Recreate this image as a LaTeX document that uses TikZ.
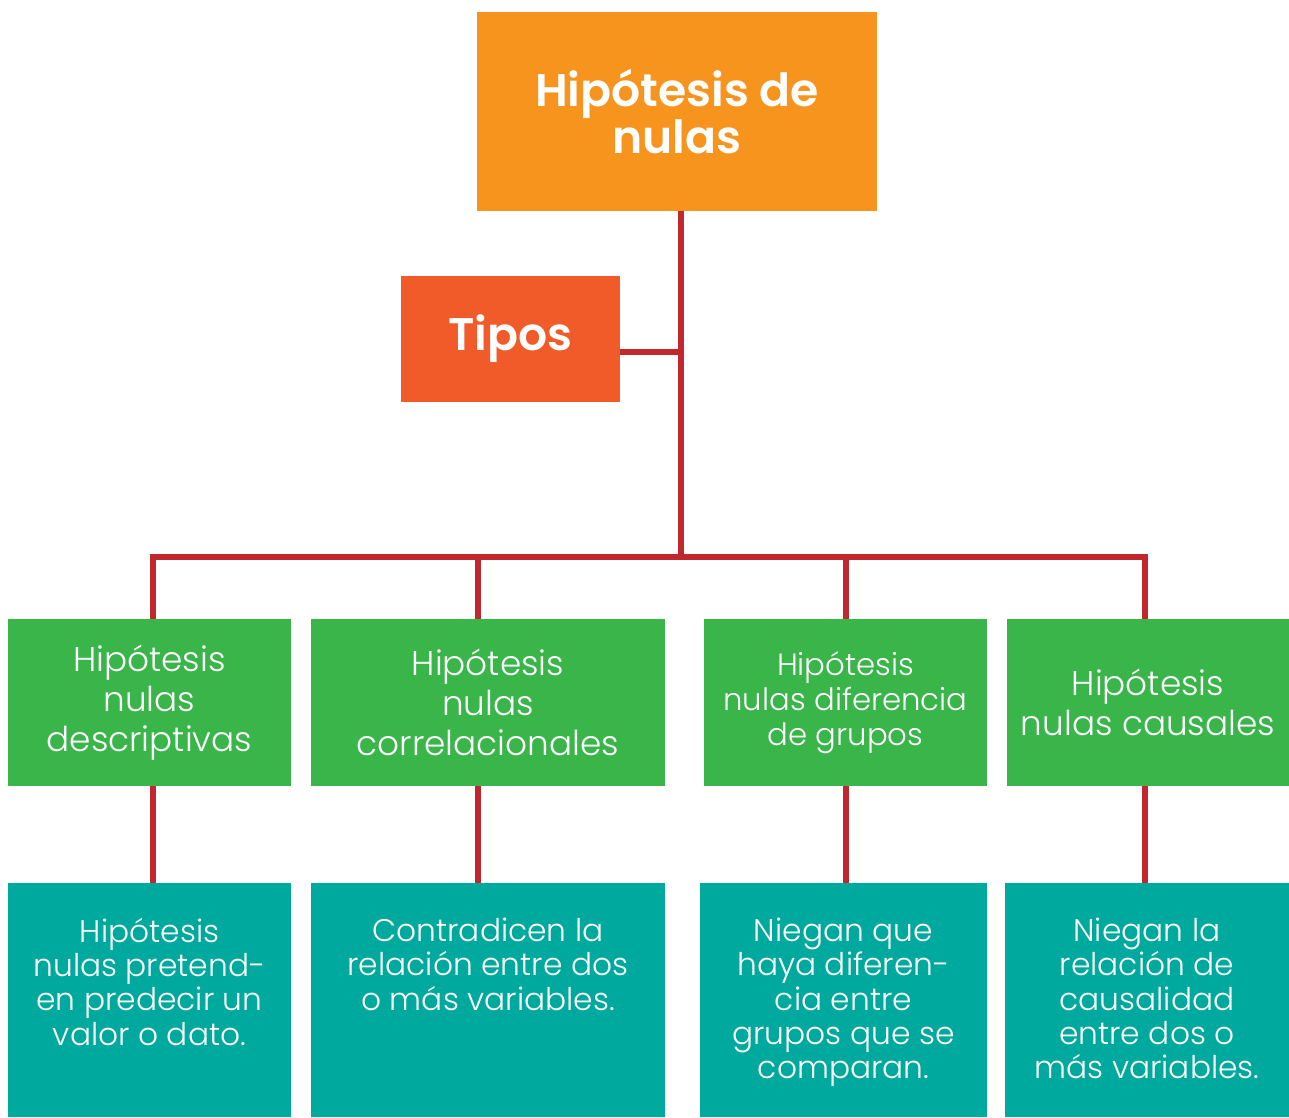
\documentclass[tikz,border=0pt]{standalone}
\usepackage{fontspec}
\setmainfont{Poppins}[UprightFont=* Light,BoldFont=* SemiBold]
\usepackage{tikz}

\definecolor{naranja}{HTML}{F7941E}
\definecolor{rojizo}{HTML}{F15A29}
\definecolor{verde}{HTML}{39B54A}
\definecolor{turquesa}{HTML}{00A99D}
\definecolor{rojo}{HTML}{C1272D}

\tikzset{
	caja/.style={fill=#1,text=white,inner sep=0pt,align=center},
	tipo/.style={caja=verde,minimum height=3.34cm,font=\fontsize{19.5}{22.7}\selectfont},
	enlace/.style={draw=rojo,line width=3.4pt},
}
\newcommand{\desc}[2]{\parbox[t][4.68cm][t]{#1}{\centering\fontsize{17.8}{19.5}\selectfont\vspace*{0.7cm}#2}}

\begin{document}
\begin{tikzpicture}[x=0.02cm,y=-0.02cm]
	\useasboundingbox (0,0) rectangle (1289,1117);
	\node[caja=naranja,minimum width=8cm,minimum height=3.98cm,font=\bfseries\fontsize{26}{27}\selectfont](hip)at(677,111.5){Hipótesis de\\nulas};
	\node[caja=rojizo,minimum width=4.38cm,minimum height=2.52cm,font=\bfseries\fontsize{26}{27}\selectfont](tipos)at(510.5,339){Tipos};

				\node[tipo,minimum width=5.66cm](g1)at(149.5,702.5){Hipótesis\\nulas\\descriptivas};
				\node[tipo,minimum width=7.08cm](g2)at(488,702.5){Hipótesis\\nulas\\correlacionales};
				\node[tipo,minimum width=5.66cm,font=\fontsize{17.5}{19.8}\selectfont](g3)at(845.5,702.5){Hipótesis\\nulas diferencia\\de grupos};
				\node[tipo,minimum width=5.64cm](g4)at(1148,702.5){Hipótesis\\nulas causales};

				\node[caja=turquesa](d1)at(149.5,1000){\desc{5.66cm}{Hipótesis\\nulas pretend-\\en predecir un\\valor o dato.}};
				\node[caja=turquesa](d2)at(488,1000){\desc{7.08cm}{Contradicen la\\relación entre dos\\o más variables.}};
				\node[caja=turquesa](d3)at(843.5,1000){\desc{5.74cm}{Niegan que\\haya diferen-\\cia entre\\grupos que se\\comparan.}};
				\node[caja=turquesa](d4)at(1147,1000){\desc{5.68cm}{Niegan la\\relación de\\causalidad\\entre dos o\\más variables.}};

	\coordinate(hub)at(681,557);
	\draw[enlace](hip.south -| hub)--(hub);
	\draw[enlace]([yshift=-0.26cm]tipos.east)--([yshift=-0.26cm]tipos.east -| hub);
	\foreach \n/\x in {1/153,2/478,3/846,4/1145}{
		\coordinate(b\n)at(\x,557);
	}
	\draw[enlace](b1 |- g1.north)--(b1)--(b4)--(b4 |- g4.north);
	\foreach \n in {2,3}{
		\draw[enlace](b\n)--(b\n |- g\n.north);
	}
	\foreach \n in {1,...,4}{
		\draw[enlace](b\n |- g\n.south)--(b\n |- d\n.north);
	}
\end{tikzpicture}
\end{document}
